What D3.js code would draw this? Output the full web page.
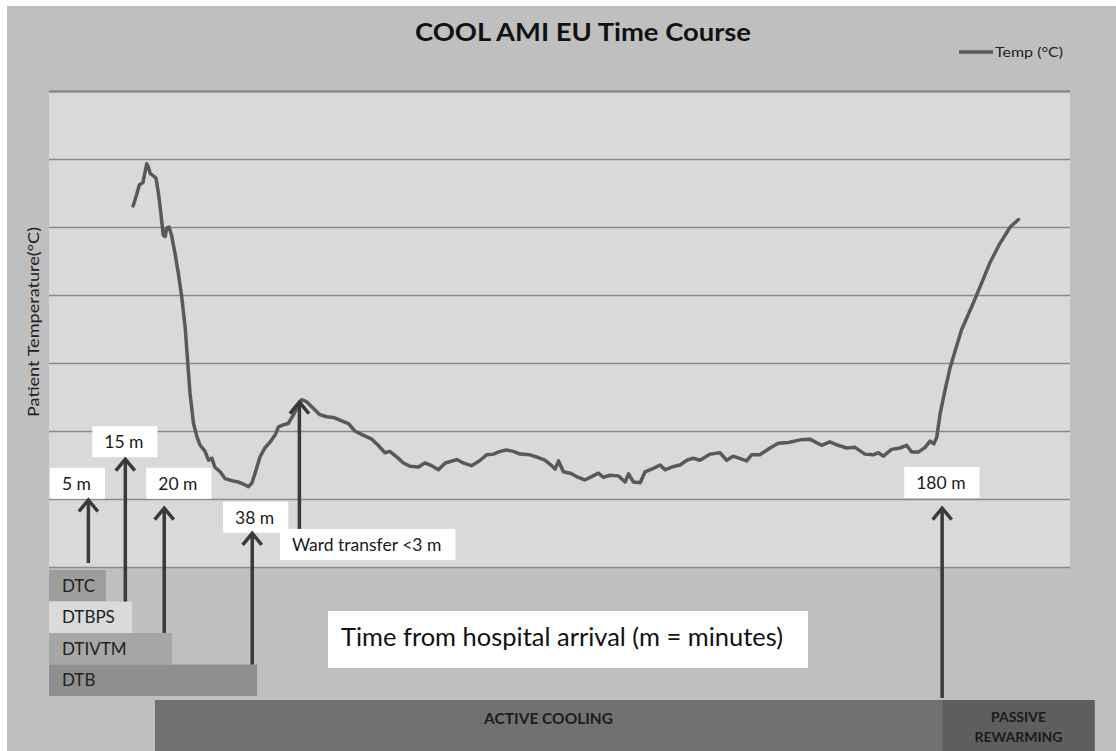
<!DOCTYPE html>
<html>
<head>
<meta charset="utf-8">
<script src="https://cdn.jsdelivr.net/npm/d3@7"></script>
<style>
  html, body { margin: 0; padding: 0; background: #ffffff; }
  svg { display: block; font-family: Lato, "Open Sans", sans-serif; }
</style>
</head>
<body>
<svg id="chart" width="1116" height="751"></svg>
<script>
// ---------------- DATA ----------------
const chartTitle = "COOL AMI EU Time Course";
const seriesName = "Temp (°C)";
const yAxisTitle = "Patient Temperature(°C)";
const xAxisTitle = "Time from hospital arrival (m = minutes)";

// temperature gridlines (no tick labels shown in the original)
const tempTicks = [31, 32, 33, 34, 35, 36, 37, 38];

// temperature trace: time on the chart's (schematic) minute axis, and °C
const times = [13.3,14.0,14.6,15.3,16.1,16.4,16.8,17.5,18.0,18.5,
  19.0,19.5,19.9,20.2,20.7,21.2,21.9,22.6,23.3,24.0,
  24.4,25.0,25.7,26.4,27.1,28.1,28.8,29.5,30.1,31.2,
  32.2,33.6,34.9,36.0,37.0,37.7,38.4,39.4,40.4,41.5,
  42.5,43.2,44.2,45.2,46.3,47.3,48.0,49.0,50.4,51.7,
  53.1,54.5,56.2,57.6,58.9,60.6,62.4,63.7,65.1,66.1,
  67.5,68.9,70.3,72.0,73.3,74.7,76.1,77.5,79.9,81.2,
  82.9,84.7,86.0,87.4,88.8,90.1,91.5,92.9,94.9,96.6,
  98.0,99.4,100.1,100.8,101.8,103.2,104.5,106.2,107.6,109.0,
  110.0,111.4,113.1,114.5,115.2,116.2,117.6,118.6,120.3,121.7,
  122.7,124.1,125.8,127.2,128.5,129.9,132.0,134.0,135.4,136.7,
  139.5,140.5,142.2,144.3,146.0,148.1,150.5,152.5,154.9,156.6,
  158.3,160.1,161.8,163.8,165.5,166.6,167.6,169.3,171.0,172.4,
  173.4,174.8,176.2,177.2,178.0,178.6,179.3,180.3,181.3,182.0,
  183.7,185.8,187.5,189.5,191.6,193.7,195.4];
const temps = [36.31,36.47,36.62,36.65,36.93,36.89,36.79,36.75,36.72,36.50,
  36.21,35.88,35.86,35.98,36.00,35.88,35.62,35.32,34.97,34.53,
  34.14,33.56,33.12,32.92,32.79,32.70,32.57,32.60,32.47,32.40,
  32.30,32.27,32.25,32.22,32.18,32.23,32.38,32.62,32.75,32.84,
  32.94,33.06,33.09,33.11,33.24,33.38,33.46,33.43,33.33,33.24,
  33.21,33.20,33.15,33.11,33.00,32.94,32.88,32.79,32.68,32.70,
  32.62,32.53,32.48,32.47,32.53,32.49,32.43,32.53,32.58,32.53,
  32.49,32.57,32.65,32.66,32.70,32.72,32.70,32.66,32.65,32.61,
  32.57,32.49,32.44,32.56,32.40,32.38,32.33,32.28,32.33,32.38,
  32.32,32.35,32.34,32.25,32.37,32.25,32.24,32.40,32.45,32.50,
  32.43,32.47,32.50,32.57,32.60,32.57,32.66,32.68,32.57,32.63,
  32.56,32.65,32.65,32.75,32.82,32.83,32.87,32.88,32.79,32.84,
  32.79,32.75,32.76,32.66,32.65,32.68,32.63,32.73,32.75,32.79,
  32.69,32.69,32.76,32.85,32.81,32.91,33.26,33.60,33.92,34.09,
  34.49,34.83,35.12,35.47,35.76,36.00,36.11];

// annotated time points (arrows)
const markLabels = ["5 m", "15 m", "20 m", "38 m", "Ward transfer <3 m", "180 m"];
const markTimes  = [4.1, 11.7, 19.7, 37.8, 47.5, 179.7];      // where the arrow sits
const markTipTemp = [32.0, 32.6, 31.88, 31.51, 33.44, 31.88];  // level the arrow points to
const markBoxStart = [-3.8, 4.9, 16.0, 31.8, 43.5, 171.9];     // label box left, in minutes
const markBoxTopTemp = [32.46, 33.07, 32.46, 31.96, 31.56, 32.47];
const markBase = ["plot", "DTBPS", "DTIVTM", "DTB", "box", "ACTIVE COOLING"];

// door-to-... intervals
const intervalNames = ["DTC", "DTBPS", "DTIVTM", "DTB"];
const intervalEnds = [7.7, 13.1, 21.3, 38.8];

// treatment phases
const phaseNames = ["ACTIVE COOLING", "PASSIVE REWARMING"];
const phaseStarts = [17.8, 179.7];
const phaseEnds = [179.7, 211.1];

// ---------------- LAYOUT ----------------
const W = 1116, H = 751;
const plot = { left: 49, right: 1070, top: 91, bottom: 567 };
const svg = d3.select("#chart");

const x = d3.scaleLinear().domain([-4, 206]).range([plot.left, plot.right]);
const y = d3.scaleLinear().domain([31, 38]).range([plot.bottom, plot.top]);
const rowY = d3.scaleBand().domain(intervalNames).range([570, 696]);

// outer background
svg.append("rect").attr("x", 7).attr("y", 6).attr("width", W - 7).attr("height", H - 6)
  .attr("fill", "#bfbfbf");

// plot area
svg.append("rect").attr("x", plot.left).attr("y", plot.top)
  .attr("width", plot.right - plot.left).attr("height", plot.bottom - plot.top)
  .attr("fill", "#d9d9d9");

// gridlines via axis
const yAxis = d3.axisLeft(y).tickValues(tempTicks)
  .tickSize(-(plot.right - plot.left)).tickFormat("");
const gAxis = svg.append("g").attr("transform", `translate(${plot.left},0)`).call(yAxis);
gAxis.select(".domain").remove();
gAxis.selectAll(".tick line").attr("stroke", "#8a8a8a")
  .attr("stroke-width", d => d === 38 ? 2.5 : 1.6);

// title
svg.append("text").attr("x", 583).attr("y", 41).attr("text-anchor", "middle")
  .attr("font-size", 25).attr("font-weight", "bold").attr("fill", "#111")
  .attr("textLength", 336).attr("lengthAdjust", "spacingAndGlyphs")
  .text(chartTitle);

// legend
svg.append("line").attr("x1", 959).attr("x2", 993).attr("y1", 52).attr("y2", 52)
  .attr("stroke", "#595959").attr("stroke-width", 3.5);
svg.append("text").attr("x", 995).attr("y", 56.5).attr("font-size", 13.5)
  .attr("fill", "#222").attr("textLength", 68).attr("lengthAdjust", "spacingAndGlyphs")
  .text(seriesName);

// y-axis title
svg.append("text").attr("transform", "translate(39,322) rotate(-90)")
  .attr("text-anchor", "middle").attr("font-size", 16).attr("fill", "#222")
  .attr("textLength", 190).attr("lengthAdjust", "spacingAndGlyphs")
  .text(yAxisTitle);

// interval bars
const intervalFill = { DTC: "#9d9d9d", DTBPS: "#dadada", DTIVTM: "#a6a6a6", DTB: "#8f8f8f" };
const rows = svg.append("g");
intervalNames.forEach((name, i) => {
  rows.append("rect").attr("x", x(-4)).attr("y", rowY(name))
    .attr("width", x(intervalEnds[i]) - x(-4)).attr("height", rowY.bandwidth())
    .attr("fill", intervalFill[name]);
  rows.append("text").attr("x", x(-4) + 13).attr("y", rowY(name) + rowY.bandwidth() / 2 + 6)
    .attr("font-size", 17).attr("fill", "#222").text(name);
});

// phase bars
const phaseFill = ["#717171", "#5e5e5e"];
const phaseTop = 700;
phaseNames.forEach((name, i) => {
  const x0 = x(phaseStarts[i]), x1 = x(phaseEnds[i]);
  svg.append("rect").attr("x", x0).attr("y", phaseTop).attr("width", x1 - x0)
    .attr("height", H - phaseTop).attr("fill", phaseFill[i]);
  const words = i === 0 ? [name] : name.split(" ");
  const t = svg.append("text").attr("text-anchor", "middle").attr("font-weight", "bold")
    .attr("font-size", i === 0 ? 15.5 : 14).attr("fill", "#1c1c1c");
  words.forEach((w, k) => {
    t.append("tspan").attr("x", (x0 + x1) / 2)
      .attr("y", i === 0 ? 724 : 722 + k * 20).text(w);
  });
});

// x-axis title box
svg.append("rect").attr("x", 328).attr("y", 611).attr("width", 480).attr("height", 57)
  .attr("fill", "#ffffff");
svg.append("text").attr("x", 341).attr("y", 646).attr("font-size", 25).attr("fill", "#111")
  .attr("textLength", 442).attr("lengthAdjust", "spacingAndGlyphs")
  .text(xAxisTitle);

// temperature line
const lineData = times.map((t, i) => [t, temps[i]]);
svg.append("path").datum(lineData)
  .attr("d", d3.line().x(d => x(d[0])).y(d => y(d[1])))
  .attr("fill", "none").attr("stroke", "#595959").attr("stroke-width", 3.5)
  .attr("stroke-linejoin", "round").attr("stroke-linecap", "round");

// marker label boxes
const boxH = 31;
const boxes = svg.append("g");
const boxTops = [];
markLabels.forEach((lab, i) => {
  const bx = x(markBoxStart[i]), by = y(markBoxTopTemp[i]);
  boxTops.push(by);
  const r = boxes.append("rect").attr("x", bx).attr("y", by).attr("height", boxH).attr("fill", "#ffffff");
  const tx = boxes.append("text").attr("x", bx + 12).attr("y", by + 22)
    .attr("font-size", 17.5).attr("fill", "#1a1a1a").text(lab);
  const tw = tx.node().getComputedTextLength();
  r.attr("width", tw + 26);
});

// arrows
const baseY = (key, i) => {
  if (key === "plot") return plot.bottom - 4;
  if (key === "box") return boxTops[i];
  if (intervalNames.includes(key)) return rowY(key);
  return phaseTop - 2;
};
const arrows = svg.append("g").attr("stroke", "#3a3a3a").attr("stroke-width", 3.5)
  .attr("fill", "none").attr("stroke-linecap", "butt");
markTimes.forEach((t, i) => {
  const ax = x(t), tip = y(markTipTemp[i]), base = baseY(markBase[i], i);
  arrows.append("line").attr("x1", ax).attr("x2", ax).attr("y1", base).attr("y2", tip + 1);
  arrows.append("path").attr("d", `M${ax - 9.5},${tip + 12.5} L${ax},${tip + 1} L${ax + 9.5},${tip + 12.5}`)
    .attr("stroke-linejoin", "miter");
});
</script>
</body>
</html>
